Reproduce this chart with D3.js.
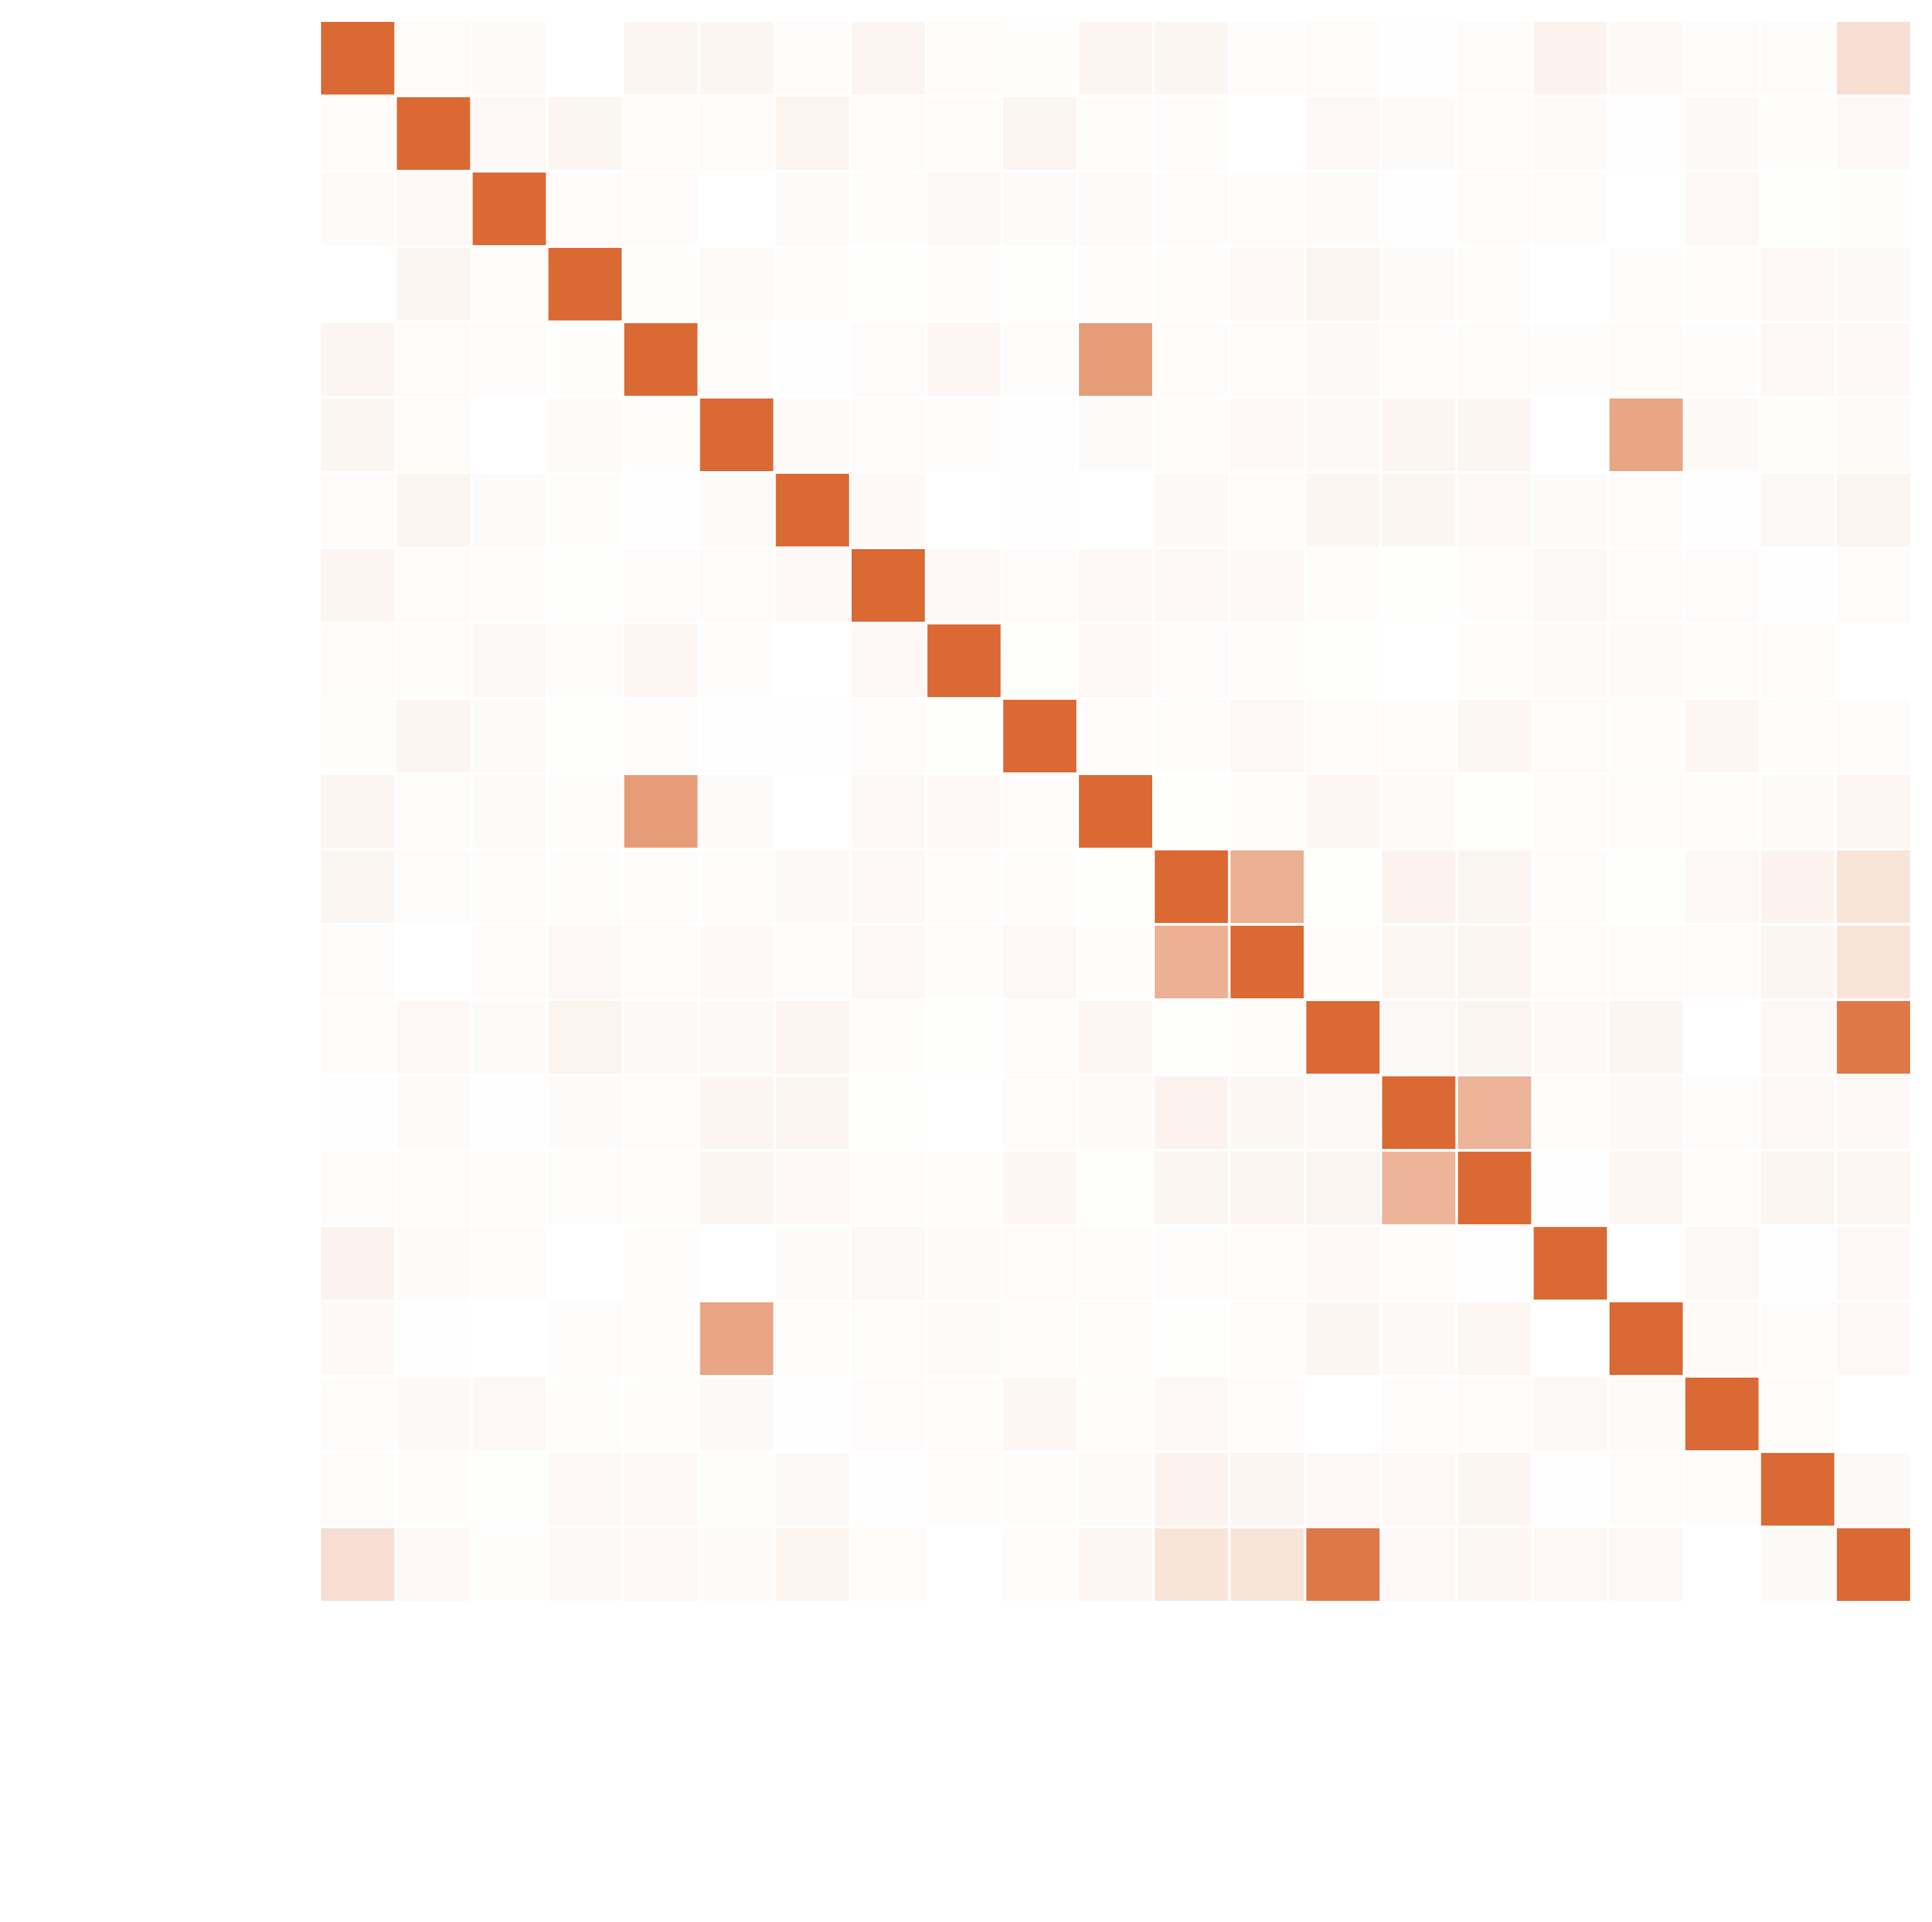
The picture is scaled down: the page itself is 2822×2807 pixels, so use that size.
<!DOCTYPE html>
<html>
<head>
<meta charset="utf-8">
<script src="https://cdn.jsdelivr.net/npm/d3@7"></script>
<style>
  html, body { margin: 0; padding: 0; background: #ffffff; }
  svg { display: block; }
</style>
</head>
<body>
<svg id="chart" width="2822" height="2807"></svg>
<script>
// Variable identifiers (no labels are displayed in the chart)
const variables = ["V1","V2","V3","V4","V5","V6","V7","V8","V9","V10","V11",
                   "V12","V13","V14","V15","V16","V17","V18","V19","V20","V21"];

// Correlation matrix values, one row per variable
const row0  = [1, .03, .035, 0, .07, -.06, .025, .07, .03, .01, .07, -.06, .02, .03, .005, -.02, .08, .04, -.02, .02, .22];
const row1  = [.03, 1, .05, .07, .03, .03, -.08, .03, .02, .07, -.02, .02, 0, .05, -.03, .03, .035, .005, -.04, -.015, .05];
const row2  = [.035, .05, 1, .025, .025, 0, -.03, .015, -.05, -.03, -.03, .02, .025, -.03, .005, .02, -.02, 0, .05, -.01, .01];
const row3  = [0, .07, .025, 1, .01, -.035, .015, -.01, .02, -.01, .02, -.015, .05, -.08, -.03, .02, 0, .02, .015, .05, -.04];
const row4  = [.07, .03, .025, .01, 1, .015, .005, .025, .06, -.02, .66, -.02, .02, -.04, -.02, -.02, .015, .03, .015, .05, .045];
const row5  = [-.06, .03, 0, -.035, .015, 1, -.03, -.025, .015, .005, -.03, -.015, .04, -.04, .07, .07, 0, .6, -.04, .01, -.035];
const row6  = [.025, -.08, -.03, .015, .005, -.03, 1, .04, 0, .005, 0, -.04, .025, .07, .07, .045, -.03, .02, .005, -.05, -.08];
const row7  = [.07, .03, .015, -.01, .025, -.025, .04, 1, .05, .025, .05, .05, .05, .015, -.01, -.015, -.05, -.02, .025, .005, .03];
const row8  = [.03, .02, -.05, .02, .06, .015, 0, .05, 1, -.01, .05, .025, .02, -.01, 0, -.015, -.03, .035, .02, .03, 0];
const row9  = [.01, .07, -.03, -.01, -.02, .005, .005, .025, -.01, 1, .025, .015, .05, -.025, .03, .06, .03, .015, .06, -.015, -.025];
const row10 = [.07, -.02, -.03, .02, .66, -.03, 0, .05, .05, .025, 1, -.01, -.015, .06, -.03, -.01, .03, .03, .015, -.03, .06];
const row11 = [-.06, .02, .02, -.015, -.02, -.015, -.04, .05, .025, .015, -.01, 1, .53, -.01, .08, .075, .02, -.01, .05, .08, .18];
const row12 = [.02, 0, .025, .05, .02, .04, .025, .05, .02, .05, -.015, .53, 1, -.015, .055, .075, .03, .03, .025, .065, .18];
const row13 = [.03, .05, -.03, -.08, -.04, -.04, .07, .015, -.01, -.025, .06, -.01, -.015, 1, -.05, .075, .04, -.06, 0, .05, .9];
const row14 = [.005, -.03, .005, -.03, -.02, .07, .07, -.01, 0, .03, -.03, .08, .055, -.05, 1, .5, .015, -.04, -.02, .05, .045];
const row15 = [-.02, .03, .02, .02, -.02, .07, .045, -.015, -.015, .06, -.01, .075, .075, .075, .5, 1, -.005, .06, .03, .065, .06];
const row16 = [.08, .035, -.02, 0, .015, 0, -.03, -.05, -.03, .03, .03, .02, .03, .04, .015, -.005, 1, 0, -.05, .005, .05];
const row17 = [.04, .005, 0, .02, .03, .6, .02, -.02, .035, .015, .03, -.01, .03, -.06, -.04, .06, 0, 1, -.035, .02, .05];
const row18 = [-.02, -.04, .05, .015, .015, -.04, .005, .025, .02, .06, .015, .05, .025, 0, -.02, .03, -.05, -.035, 1, .03, 0];
const row19 = [.02, -.015, -.01, .05, .05, .01, -.05, .005, .03, -.015, -.03, .08, .065, .05, .05, .065, .005, .02, .03, 1, -.04];
const row20 = [.22, .05, .01, -.04, .045, -.035, -.08, .03, 0, -.025, .06, .18, .18, .9, .045, .06, .05, .05, 0, -.04, 1];

const matrix = [row0,row1,row2,row3,row4,row5,row6,row7,row8,row9,row10,
                row11,row12,row13,row14,row15,row16,row17,row18,row19,row20];

const cells = [];
matrix.forEach((r, i) => r.forEach((v, j) => cells.push({row: variables[i], col: variables[j], value: v})));

const svg = d3.select("#chart");

const x = d3.scaleBand().domain(variables).range([469, 2790]).paddingInner(0.034).paddingOuter(0);
const y = d3.scaleBand().domain(variables).range([32, 2338]).paddingInner(0.036).paddingOuter(0);

const color = d3.scaleLinear()
  .domain([-1, 0, 1])
  .range(["#cc7038", "#ffffff", "#db6933"])
  .interpolate(d3.interpolateRgb)
  .clamp(true);

svg.append("g")
  .selectAll("rect")
  .data(cells)
  .join("rect")
  .attr("x", d => x(d.col))
  .attr("y", d => y(d.row))
  .attr("width", x.bandwidth())
  .attr("height", y.bandwidth())
  .attr("fill", d => color(d.value));
</script>
</body>
</html>
